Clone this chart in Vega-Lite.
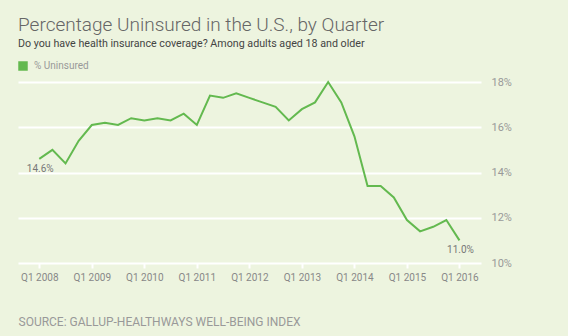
{
  "$schema": "https://vega.github.io/schema/vega-lite/v6.json",
  "width": 463,
  "height": 181,
  "autosize": "none",
  "padding": {"left": 18, "top": 82, "right": 87, "bottom": 73},
  "background": "#EDF4DF",
  "config": {
    "view": {"stroke": null},
    "font": "Roboto"
  },
  "title": {
    "text": "Percentage Uninsured in the U.S., by Quarter",
    "subtitle": "Do you have health insurance coverage? Among adults aged 18 and older",
    "anchor": "start",
    "frame": "group",
    "offset": 12,
    "font": "Roboto",
    "fontSize": 19,
    "fontWeight": 300,
    "color": "#666666",
    "subtitleFont": "Roboto",
    "subtitleFontSize": 10.7,
    "subtitleColor": "#444444",
    "subtitlePadding": 4
  },
  "data": {
    "values": [
      {"t": 2008.0, "v": 14.6, "series": "% Uninsured", "label": "14.6%"},
      {"t": 2008.25, "v": 15.0, "series": "% Uninsured"},
      {"t": 2008.5, "v": 14.4, "series": "% Uninsured"},
      {"t": 2008.75, "v": 15.4, "series": "% Uninsured"},
      {"t": 2009.0, "v": 16.1, "series": "% Uninsured"},
      {"t": 2009.25, "v": 16.2, "series": "% Uninsured"},
      {"t": 2009.5, "v": 16.1, "series": "% Uninsured"},
      {"t": 2009.75, "v": 16.4, "series": "% Uninsured"},
      {"t": 2010.0, "v": 16.3, "series": "% Uninsured"},
      {"t": 2010.25, "v": 16.4, "series": "% Uninsured"},
      {"t": 2010.5, "v": 16.3, "series": "% Uninsured"},
      {"t": 2010.75, "v": 16.6, "series": "% Uninsured"},
      {"t": 2011.0, "v": 16.1, "series": "% Uninsured"},
      {"t": 2011.25, "v": 17.4, "series": "% Uninsured"},
      {"t": 2011.5, "v": 17.3, "series": "% Uninsured"},
      {"t": 2011.75, "v": 17.5, "series": "% Uninsured"},
      {"t": 2012.0, "v": 17.3, "series": "% Uninsured"},
      {"t": 2012.25, "v": 17.1, "series": "% Uninsured"},
      {"t": 2012.5, "v": 16.9, "series": "% Uninsured"},
      {"t": 2012.75, "v": 16.3, "series": "% Uninsured"},
      {"t": 2013.0, "v": 16.8, "series": "% Uninsured"},
      {"t": 2013.25, "v": 17.1, "series": "% Uninsured"},
      {"t": 2013.5, "v": 18.0, "series": "% Uninsured"},
      {"t": 2013.75, "v": 17.1, "series": "% Uninsured"},
      {"t": 2014.0, "v": 15.6, "series": "% Uninsured"},
      {"t": 2014.25, "v": 13.4, "series": "% Uninsured"},
      {"t": 2014.5, "v": 13.4, "series": "% Uninsured"},
      {"t": 2014.75, "v": 12.9, "series": "% Uninsured"},
      {"t": 2015.0, "v": 11.9, "series": "% Uninsured"},
      {"t": 2015.25, "v": 11.4, "series": "% Uninsured"},
      {"t": 2015.5, "v": 11.6, "series": "% Uninsured"},
      {"t": 2015.75, "v": 11.9, "series": "% Uninsured"},
      {"t": 2016.0, "v": 11.0, "series": "% Uninsured", "label": "11.0%"}
    ]
  },
  "encoding": {
    "x": {
      "field": "t",
      "type": "quantitative",
      "scale": {"domain": [2007.595, 2016.41], "nice": false, "zero": false},
      "axis": {
        "values": [2008, 2009, 2010, 2011, 2012, 2013, 2014, 2015, 2016],
        "labelExpr": "'Q1 ' + datum.value",
        "grid": false,
        "domain": false,
        "ticks": true,
        "tickColor": "#FFFFFF",
        "tickSize": 5,
        "tickWidth": 2,
        "labelFont": "Roboto",
        "labelFontSize": 10,
        "labelColor": "#888888",
        "labelPadding": 4,
        "labelFlush": false,
        "title": "SOURCE: GALLUP-HEALTHWAYS WELL-BEING INDEX",
        "titleAnchor": "start",
        "titleAlign": "left",
        "titleX": 0,
        "titleY": 53,
        "titleFont": "Roboto",
        "titleFontSize": 12,
        "titleFontWeight": 400,
        "titleColor": "#999999"
      }
    },
    "y": {
      "field": "v",
      "type": "quantitative",
      "scale": {"domain": [10, 18], "nice": false, "zero": false},
      "axis": {
        "orient": "right",
        "values": [10, 12, 14, 16, 18],
        "labelExpr": "datum.value + '%'",
        "grid": true,
        "gridColor": "#FFFFFF",
        "gridWidth": 2,
        "domain": false,
        "ticks": false,
        "labelPadding": 10,
        "labelFont": "Roboto",
        "labelFontSize": 11,
        "labelColor": "#999999",
        "title": null
      }
    }
  },
  "layer": [
    {
      "mark": {"type": "line", "strokeWidth": 2},
      "encoding": {
        "color": {
          "field": "series",
          "type": "nominal",
          "scale": {"range": ["#63B94F"]},
          "legend": {
            "orient": "none",
            "legendX": 0,
            "legendY": -21,
            "title": null,
            "symbolType": "square",
            "symbolSize": 90,
            "symbolFillColor": "#63B94F",
            "symbolStrokeWidth": 0,
            "labelFont": "Roboto",
            "labelFontSize": 10,
            "labelColor": "#999999",
            "labelOffset": 6
          }
        }
      }
    },
    {
      "transform": [{"filter": "datum.label"}],
      "mark": {"type": "text", "dy": 10, "dx": 1, "fontSize": 10, "color": "#777777", "font": "Roboto"},
      "encoding": {"text": {"field": "label"}}
    }
  ]
}
